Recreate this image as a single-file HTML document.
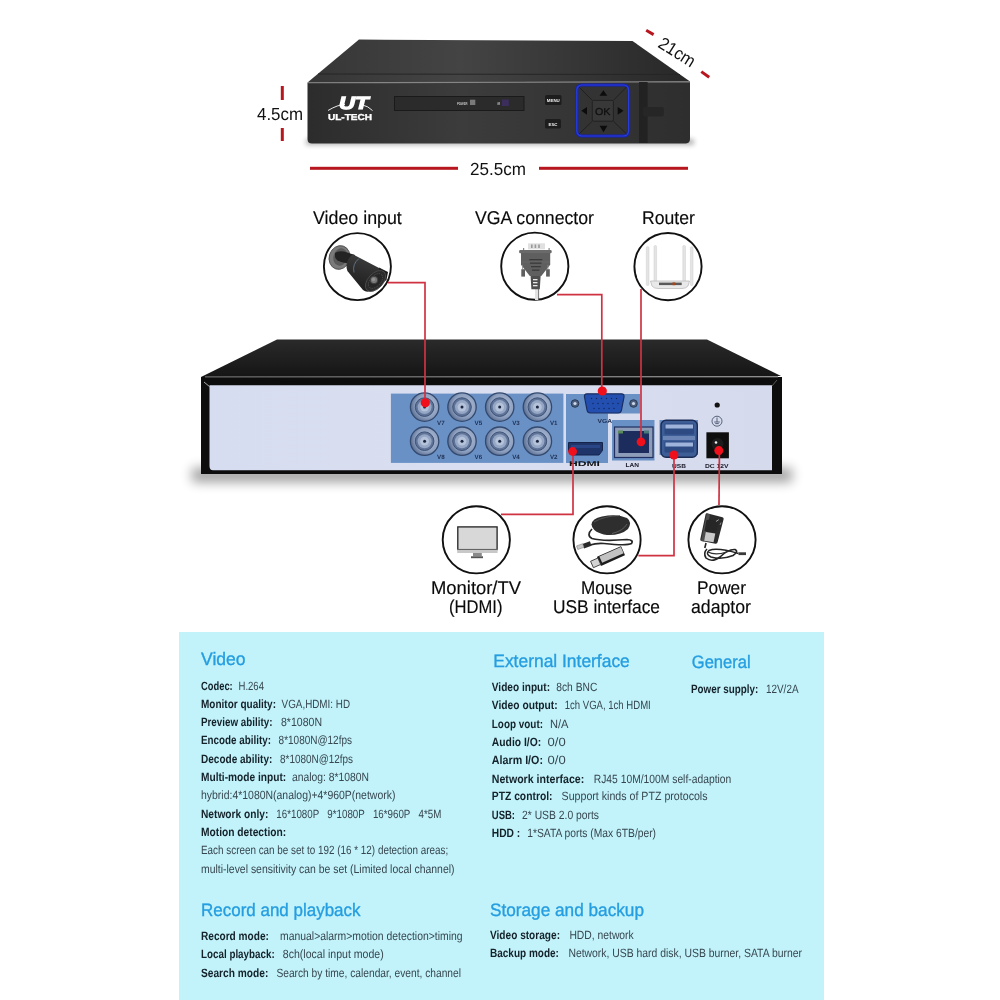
<!DOCTYPE html>
<html><head><meta charset="utf-8">
<style>
html,body{margin:0;padding:0;background:#fff;width:1000px;height:1000px;overflow:hidden}
svg{display:block;font-family:"Liberation Sans",sans-serif;text-rendering:geometricPrecision;will-change:transform}
.lbl{font-size:18.5px;fill:#0a0a0a;stroke:#0a0a0a;stroke-width:0.15px}
.h{font-size:18px;fill:#259ee0;stroke:#259ee0;stroke-width:0.35px}
.k{font-size:12px;font-weight:bold;fill:#14222a}
.v{font-size:12px;fill:#37474f}
.red{stroke:#cf3342;stroke-width:1.7;fill:none}
.dot{fill:#f0101c}
</style></head><body>
<svg width="1000" height="1000" viewBox="0 0 1000 1000">
<defs>
  <linearGradient id="topF" x1="0" y1="0" x2="1" y2="0">
    <stop offset="0" stop-color="#363636"/><stop offset="0.4" stop-color="#444"/><stop offset="1" stop-color="#282828"/>
  </linearGradient>
  <linearGradient id="frontF" x1="0" y1="0" x2="1" y2="0">
    <stop offset="0" stop-color="#2c2c2c"/><stop offset="0.4" stop-color="#3c3c3c"/><stop offset="1" stop-color="#2e2e2e"/>
  </linearGradient>
  <linearGradient id="shadowG" x1="0" y1="0" x2="0" y2="1">
    <stop offset="0" stop-color="#000" stop-opacity="0.45"/><stop offset="1" stop-color="#000" stop-opacity="0"/>
  </linearGradient>
  <radialGradient id="bncG" cx="0.6" cy="0.45" r="0.6">
    <stop offset="0" stop-color="#b5c3da"/><stop offset="0.7" stop-color="#8d9fbf"/><stop offset="1" stop-color="#5a6e92"/>
  </radialGradient>
  
  <linearGradient id="top2" x1="0" y1="0" x2="0" y2="1">
    <stop offset="0" stop-color="#2a2a2a"/><stop offset="1" stop-color="#151515"/>
  </linearGradient>
  <linearGradient id="panel2" x1="0" y1="0" x2="1" y2="0">
    <stop offset="0" stop-color="#d7ddf0"/><stop offset="0.5" stop-color="#d9def0"/><stop offset="1" stop-color="#d5dbec"/>
  </linearGradient>
  <linearGradient id="shadow2" x1="0" y1="0" x2="0" y2="1">
    <stop offset="0" stop-color="#777" stop-opacity="0.7"/><stop offset="0.4" stop-color="#aaa" stop-opacity="0.45"/><stop offset="1" stop-color="#fff" stop-opacity="0"/>
  </linearGradient>
  <linearGradient id="camBody" x1="0.3" y1="0" x2="0" y2="1">
    <stop offset="0" stop-color="#3c3c3c"/><stop offset="0.5" stop-color="#2a2a2a"/><stop offset="1" stop-color="#1a1a1a"/>
  </linearGradient>
  <filter id="blur6" x="-20%" y="-200%" width="140%" height="500%"><feGaussianBlur stdDeviation="6"/></filter>
  <filter id="blur3" x="-20%" y="-200%" width="140%" height="500%"><feGaussianBlur stdDeviation="2.5"/></filter>
</defs>

<!-- ===== TOP DVR (front) ===== -->
<g id="dvr1">
  <rect x="306" y="139" width="388" height="6" fill="#000" opacity="0.3" filter="url(#blur3)"/>
  <polygon points="359,39.5 632.5,41 690,81.5 307.5,82.5" fill="url(#topF)"/>
  <line x1="318" y1="74" x2="680" y2="74.5" stroke="#262626" stroke-width="1"/>
  <path d="M307.5,82.5 L690,81.5 V139 Q690,143 686,143.5 H312 Q307.5,143.5 307.5,139 Z" fill="url(#frontF)"/>
  <line x1="308" y1="82.8" x2="690" y2="81.9" stroke="#858585" stroke-width="1.1"/>
  <!-- logo -->
  <text x="339" y="108.5" font-size="17.5" font-weight="bold" font-style="italic" fill="#fff" stroke="#fff" stroke-width="1.2" textLength="29.5" lengthAdjust="spacingAndGlyphs">UT</text>
  <path d="M328,110.5 Q338,104.5 345,104.5" stroke="#fff" stroke-width="0.9" fill="none"/><path d="M362,104.8 Q368,106 372.5,110.5" stroke="#fff" stroke-width="0.9" fill="none"/>
  <text x="328" y="120.2" font-size="8.6" font-weight="bold" fill="#fff" stroke="#fff" stroke-width="0.35" textLength="44" lengthAdjust="spacingAndGlyphs">UL-TECH</text>
  <!-- slot -->
  <rect x="394.5" y="96.5" width="129.5" height="14" fill="#2b2b2b" stroke="#1a1a1a" stroke-width="1"/>
  <text x="457" y="104.6" font-size="4" font-weight="bold" fill="#ccc" textLength="10.5" lengthAdjust="spacingAndGlyphs">POWER</text>
  <rect x="470" y="99.7" width="5.3" height="5.3" fill="#7a7a7a"/>
  <text x="497.6" y="104.6" font-size="4" font-weight="bold" fill="#ccc" textLength="2.6" lengthAdjust="spacingAndGlyphs">IR</text>
  <rect x="502" y="99.5" width="6.8" height="6.5" fill="#3b2d5c"/>
  <!-- menu/esc -->
  <rect x="545" y="95" width="16.5" height="10" rx="1.5" fill="#1d1d1d"/>
  <text x="546.8" y="101.8" font-size="4.3" font-weight="bold" fill="#eee" textLength="13" lengthAdjust="spacingAndGlyphs">MENU</text>
  <rect x="545" y="119" width="16" height="9.5" rx="1.5" fill="#1d1d1d"/>
  <text x="548.5" y="125.5" font-size="4.3" font-weight="bold" fill="#eee" textLength="9" lengthAdjust="spacingAndGlyphs">ESC</text>
  <!-- nav pad -->
  <rect x="576.8" y="85" width="51.8" height="51" rx="5" fill="#333" stroke="#1623b0" stroke-width="3.2"/><rect x="576.8" y="85" width="51.8" height="51" rx="5" fill="none" stroke="#3048f0" stroke-width="1.2" opacity="0.7"/>
  <g stroke="#1e1e1e" stroke-width="0.9">
    <line x1="579" y1="87" x2="592.3" y2="100.4"/><line x1="626.5" y1="87" x2="613.4" y2="100.4"/>
    <line x1="579" y1="134" x2="592.3" y2="121.2"/><line x1="626.5" y1="134" x2="613.4" y2="121.2"/>
  </g>
  <rect x="592.3" y="100.4" width="21.1" height="20.8" rx="1.2" fill="#383838" stroke="#1f1f1f" stroke-width="0.9"/>
  <text x="595" y="114.8" font-size="10" fill="#101010" stroke="#101010" stroke-width="0.3" textLength="15.5" lengthAdjust="spacingAndGlyphs">OK</text>
  <g fill="#0c0c0c">
    <polygon points="603.4,90.3 607.3,95.8 599.5,95.8"/>
    <polygon points="599.6,125.7 607.4,125.7 603.5,132.2"/>
    <polygon points="581.3,110.8 587,106.9 587,114.7"/>
    <polygon points="623.5,110.8 617.7,106.9 617.7,114.7"/>
  </g>
  <rect x="639.1" y="82" width="8.5" height="61" fill="#222"/>
  <rect x="643" y="107" width="20.8" height="9.6" rx="2" fill="#262626"/>
</g>

<!-- dimensions -->
<g id="dims">
  <text x="257" y="120" font-size="17.5" fill="#111" textLength="46" lengthAdjust="spacingAndGlyphs">4.5cm</text>
  <rect x="280.8" y="86" width="3" height="14" fill="#b8161e"/>
  <rect x="280.8" y="128" width="3" height="13" fill="#b8161e"/>
  <rect x="310" y="166.8" width="148" height="3" fill="#b8161e"/>
  <rect x="539" y="166.8" width="149" height="3" fill="#b8161e"/>
  <text x="470" y="175" font-size="17.5" fill="#111" textLength="56" lengthAdjust="spacingAndGlyphs">25.5cm</text>
  <line x1="646.2" y1="30.3" x2="653.6" y2="34.6" stroke="#b8161e" stroke-width="3"/>
  <line x1="701.3" y1="71.6" x2="709.2" y2="77.3" stroke="#b8161e" stroke-width="3"/>
  <text transform="translate(657,46.5) rotate(32)" x="0" y="0" font-size="17.5" fill="#111" textLength="40" lengthAdjust="spacingAndGlyphs">21cm</text>
</g>

<!-- labels -->
<text class="lbl" x="313" y="224" textLength="88.8" lengthAdjust="spacingAndGlyphs">Video input</text>
<text class="lbl" x="475" y="224" textLength="119" lengthAdjust="spacingAndGlyphs">VGA connector</text>
<text class="lbl" x="642" y="224" textLength="52.8" lengthAdjust="spacingAndGlyphs">Router</text>

<!-- circles -->
<g fill="#fff" stroke="#111" stroke-width="1.9">
  <circle cx="357.4" cy="266.6" r="33.5"/>
  <circle cx="534.8" cy="266.2" r="33.6"/>
  <circle cx="668" cy="266.6" r="33.6"/>
  <circle cx="476.3" cy="539.8" r="33.6"/>
  <circle cx="607" cy="539.8" r="33.6"/>
  <circle cx="722" cy="539.8" r="33.6"/>
</g>
<!-- camera icon -->
<g id="cam">
  <ellipse cx="339.5" cy="257.5" rx="10.3" ry="12" transform="rotate(18 339.5 257.5)" fill="#7a7a7a" stroke="#4a4a4a" stroke-width="0.8"/>
  <ellipse cx="340.5" cy="257" rx="7" ry="8.8" transform="rotate(18 340.5 257)" fill="#5a5a5a"/>
  <path d="M335,253 Q338,250.5 344,251.5 L355,255 L352.5,264 L343,262.5 Q336,261 335,257 Z" fill="#232323"/>
  <path d="M352.7,254.3 L380.5,268.8 Q387,272 385,277 L371,290.5 Q367,293 363,290 L347.4,271 Q344,262 352.7,254.3 Z" fill="url(#camBody)"/>
  <path d="M359,258.5 Q352,264 354,272.5" stroke="#6b7d96" stroke-width="0.8" fill="none"/>
  <path d="M379,267.5 L388,272 L386.5,280 L381,284 Z" fill="#1e1e1e"/>
  <ellipse cx="375.5" cy="281" rx="7.5" ry="12.5" transform="rotate(43 375.5 281)" fill="#2b2b2b" stroke="#4a4a4a" stroke-width="0.9"/>
  <ellipse cx="375.5" cy="281" rx="5.2" ry="8.8" transform="rotate(43 375.5 281)" fill="#262626" stroke="#6a6a6a" stroke-width="0.7" stroke-dasharray="0.8 1"/>
  <circle cx="374" cy="280" r="3.8" fill="#777" stroke="#3a3a3a" stroke-width="0.9"/>
  <circle cx="373.5" cy="279.5" r="1.7" fill="#929292"/>
</g>
<!-- VGA icon -->
<g id="vgaicon">
  <rect x="535" y="289" width="3.3" height="11" fill="#e2e2e2"/>
  <line x1="538.6" y1="289" x2="538.6" y2="300" stroke="#555" stroke-width="0.8"/>
  <rect x="528" y="243.3" width="17" height="6" fill="#e0e0e0"/>
  <rect x="531" y="244.5" width="1.6" height="3.5" fill="#999"/><rect x="534.6" y="244.5" width="1.6" height="3.5" fill="#999"/><rect x="538.2" y="244.5" width="1.6" height="3.5" fill="#999"/>
  <rect x="523" y="248" width="1.2" height="3" fill="#888"/><rect x="548.5" y="248" width="1.2" height="3" fill="#888"/>
  <rect x="519.1" y="250" width="32.6" height="3.2" rx="1.2" fill="#6a6a6a"/>
  <path d="M521,253 H550.2 V264.8 L541.3,276 H529.8 L521,264.8 Z" fill="#5f5f5f"/>
  <line x1="521.5" y1="262" x2="550" y2="262" stroke="#707070" stroke-width="0.6"/>
  <g fill="#3a3a3a">
    <rect x="529.3" y="259" width="13" height="1.3"/><rect x="530" y="262.5" width="11.5" height="1.3"/>
    <rect x="531" y="266" width="9.8" height="1.3"/><rect x="532" y="269.5" width="7.5" height="1.3"/>
  </g>
  <rect x="522.2" y="264.8" width="0.8" height="4.5" fill="#888"/><rect x="547.5" y="264.8" width="0.8" height="4.5" fill="#888"/>
  <rect x="521.3" y="269.2" width="3.7" height="7.4" fill="#5f5f5f"/>
  <rect x="546.1" y="269.2" width="3.7" height="7.4" fill="#5f5f5f"/>
  <path d="M530.6,276 H540.6 L539.8,289.2 H531.4 Z" fill="#4e4e4e"/>
  <g fill="#e8e8e8"><rect x="533" y="279" width="4.5" height="1.3"/><rect x="533" y="282" width="4.5" height="1.3"/><rect x="533" y="285" width="4.5" height="1.3"/></g>
</g>
<!-- router icon -->
<g id="router">
  <g fill="#e4e4e4" stroke="#cfcfcf" stroke-width="0.5">
    <rect x="646.3" y="246.7" width="2.7" height="38.8" rx="1"/>
    <rect x="654" y="245.6" width="2.6" height="39" rx="1"/>
    <rect x="682.8" y="245.6" width="2.7" height="39" rx="1"/>
    <rect x="690.4" y="246.7" width="2.6" height="38.8" rx="1"/>
  </g>
  <path d="M650.5,281 H689.5 L688,286 Q686,288.5 682,288.5 H658 Q654,288.5 652,286 Z" fill="#e9e9e9" stroke="#b5b5b5" stroke-width="0.7"/>
  <rect x="659" y="282.6" width="22.7" height="2.5" fill="#5a5a5a"/>
  <rect x="672.5" y="282.4" width="2.8" height="2.8" fill="#a8451a"/>
</g>
<!-- monitor icon -->
<g id="monitor">
  <rect x="457.8" y="526.9" width="39.3" height="22.7" fill="#d8d8d8" stroke="#222" stroke-width="1.3"/>
  <rect x="457.2" y="549.6" width="40.4" height="3.4" fill="#c8c8c8"/>
  <rect x="473" y="553" width="8.8" height="3.3" fill="#8a8a8a"/>
  <rect x="471" y="556.3" width="12" height="1.9" fill="#555"/>
</g>
<!-- mouse + usb icon -->
<g id="mouse">
  <path d="M592,529 Q586,535 592,538.5 Q602,541.5 627,539.5 Q634,540 631.5,543.5 Q627,546 604,543.5 Q596,543 590,545" fill="none" stroke="#262626" stroke-width="1.7"/>
  <path d="M591.5,524.5 Q592,518.5 602,516.5 Q617,513.5 627,518 Q632.5,522 628,529 Q621,535.5 607,535 Q593,533 591.5,524.5 Z" fill="#2e2e2e"/>
  <path d="M594,522 Q604,516 620,515.5" stroke="#5a5a5a" stroke-width="0.8" fill="none"/>
  <path d="M612,533.5 Q623,531 627,524" stroke="#6a6a6a" stroke-width="0.8" fill="none"/>
  <rect x="583" y="542.5" width="8" height="4.8" transform="rotate(-20 587 545)" fill="#2a2a2a"/>
  <rect x="577" y="544.8" width="6.5" height="3.8" transform="rotate(-20 580 546.7)" fill="#c8c8c8" stroke="#777" stroke-width="0.5"/>
  <g transform="rotate(-24 610 557)">
    <rect x="598" y="551.5" width="26.5" height="10" rx="0.8" fill="#1c1c1c"/>
    <rect x="600.5" y="552.2" width="23.5" height="6.8" fill="#c2c2c2"/>
    <rect x="590.5" y="553" width="8" height="7" fill="#d4d4d4" stroke="#333" stroke-width="0.8"/>
  </g>
</g>
<!-- power adaptor icon -->
<g id="power">
  <path d="M707,513.2 L722.5,517.3 Q724,517.8 723.6,519.3 L717.5,542.6 Q717,544 715.5,543.7 L701.5,541.1 Q700,540.8 700.3,539.3 L705.6,514.3 Q706,513 707,513.2 Z" fill="#2a2a2a"/>
  <path d="M706.8,513.6 L710,514.4 L704.3,541.5 L701,540.9 Z" fill="#4d4d4d"/>
  <path d="M706.5,520 Q713,519 718,523 L716,533 Q710,533 704.5,531 Z" fill="#262626"/>
  <path d="M705.8,532 L715.3,533.6 L713.5,542.2 L704.2,540.8 Z" fill="#c9c9c9"/>
  <line x1="716" y1="521.5" x2="718.8" y2="519.6" stroke="#aaa" stroke-width="0.9"/>
  <line x1="720" y1="525" x2="721" y2="522.5" stroke="#999" stroke-width="0.8"/>
  <path d="M706,543 L704.8,548" stroke="#222" stroke-width="1.6"/>
  <path d="M707,549 Q703,553 706,558 Q712,563 720,557 Q728,549 735,549.5 Q739,551.5 733,555.5 Q722,560 711,557 Q705,554 709,550.5 Q717,547 738.5,553.5" fill="none" stroke="#242424" stroke-width="1.6"/>
  <path d="M708,552 Q716,556 730,551" fill="none" stroke="#303030" stroke-width="1.2"/>
  <rect x="738.5" y="552.3" width="7.5" height="2.8" fill="#3a3a3a"/>
</g>

<!-- ===== BACK DVR ===== -->
<g id="dvr2">
  <rect x="192" y="468" width="600" height="14" fill="#000" opacity="0.38" filter="url(#blur6)"/>
  <polygon points="277,339.5 707,339.5 781,376 201,377" fill="url(#top2)"/>
  <rect x="201" y="377" width="581" height="97" fill="#0d0d0d"/>
  <line x1="205" y1="376.8" x2="778" y2="376.8" stroke="#6a6a6a" stroke-width="1.2"/>
  <path d="M209.5,385.3 H772 V470.2 H213 Q209.5,470.2 209.5,466 Z" fill="url(#panel2)"/>
  <line x1="204" y1="382" x2="210" y2="387" stroke="#aaa" stroke-width="1"/>
  <line x1="777" y1="380" x2="772" y2="386" stroke="#555" stroke-width="1"/>
  <rect x="390.9" y="393.6" width="172.5" height="69.3" fill="#6a91c6"/>
  <path d="M566,394 H640 V413.5 H608 V463 H566 Z" fill="#6a91c6"/>
  <rect x="612" y="420" width="42.5" height="40.5" fill="#6a91c6"/>
  <rect x="659.5" y="420" width="38.5" height="35" fill="#6a91c6"/>
  <g transform="translate(424.6 407.1)"><circle r="14.2" fill="url(#bncG)" stroke="#33496e" stroke-width="1.3"/>
    <circle r="9.3" fill="#60749a" stroke="#3e5275" stroke-width="1"/>
    <circle r="7" fill="#95a7c5"/>
    <circle r="4.4" fill="#b4c2da"/>
    <circle r="1.5" fill="#1b2540"/></g>
  <g transform="translate(462 407.1)"><circle r="14.2" fill="url(#bncG)" stroke="#33496e" stroke-width="1.3"/>
    <circle r="9.3" fill="#60749a" stroke="#3e5275" stroke-width="1"/>
    <circle r="7" fill="#95a7c5"/>
    <circle r="4.4" fill="#b4c2da"/>
    <circle r="1.5" fill="#1b2540"/></g>
  <g transform="translate(499.7 407.1)"><circle r="14.2" fill="url(#bncG)" stroke="#33496e" stroke-width="1.3"/>
    <circle r="9.3" fill="#60749a" stroke="#3e5275" stroke-width="1"/>
    <circle r="7" fill="#95a7c5"/>
    <circle r="4.4" fill="#b4c2da"/>
    <circle r="1.5" fill="#1b2540"/></g>
  <g transform="translate(537.4 407.1)"><circle r="14.2" fill="url(#bncG)" stroke="#33496e" stroke-width="1.3"/>
    <circle r="9.3" fill="#60749a" stroke="#3e5275" stroke-width="1"/>
    <circle r="7" fill="#95a7c5"/>
    <circle r="4.4" fill="#b4c2da"/>
    <circle r="1.5" fill="#1b2540"/></g>
  <g transform="translate(424.6 441.2)"><circle r="14.2" fill="url(#bncG)" stroke="#33496e" stroke-width="1.3"/>
    <circle r="9.3" fill="#60749a" stroke="#3e5275" stroke-width="1"/>
    <circle r="7" fill="#95a7c5"/>
    <circle r="4.4" fill="#b4c2da"/>
    <circle r="1.5" fill="#1b2540"/></g>
  <g transform="translate(462 441.2)"><circle r="14.2" fill="url(#bncG)" stroke="#33496e" stroke-width="1.3"/>
    <circle r="9.3" fill="#60749a" stroke="#3e5275" stroke-width="1"/>
    <circle r="7" fill="#95a7c5"/>
    <circle r="4.4" fill="#b4c2da"/>
    <circle r="1.5" fill="#1b2540"/></g>
  <g transform="translate(499.7 441.2)"><circle r="14.2" fill="url(#bncG)" stroke="#33496e" stroke-width="1.3"/>
    <circle r="9.3" fill="#60749a" stroke="#3e5275" stroke-width="1"/>
    <circle r="7" fill="#95a7c5"/>
    <circle r="4.4" fill="#b4c2da"/>
    <circle r="1.5" fill="#1b2540"/></g>
  <g transform="translate(537.4 441.2)"><circle r="14.2" fill="url(#bncG)" stroke="#33496e" stroke-width="1.3"/>
    <circle r="9.3" fill="#60749a" stroke="#3e5275" stroke-width="1"/>
    <circle r="7" fill="#95a7c5"/>
    <circle r="4.4" fill="#b4c2da"/>
    <circle r="1.5" fill="#1b2540"/></g>
  <g font-size="6.2" font-weight="bold" fill="#1e2f52">
  <text x="437.1" y="424.8" text-anchor="start">V7</text>
  <text x="437.1" y="459" text-anchor="start">V8</text>
  <text x="474.5" y="424.8" text-anchor="start">V5</text>
  <text x="474.5" y="459" text-anchor="start">V6</text>
  <text x="512.2" y="424.8" text-anchor="start">V3</text>
  <text x="512.2" y="459" text-anchor="start">V4</text>
  <text x="549.9" y="424.8" text-anchor="start">V1</text>
  <text x="549.9" y="459" text-anchor="start">V2</text>
  </g>
  <!-- VGA -->
  <circle cx="575" cy="403.5" r="3.8" fill="#4b5f80" stroke="#2a3a55" stroke-width="1"/><circle cx="575" cy="403.5" r="1.6" fill="#cfd8e8"/>
  <circle cx="633.5" cy="403.5" r="3.8" fill="#4b5f80" stroke="#2a3a55" stroke-width="1"/><circle cx="633.5" cy="403.5" r="1.6" fill="#cfd8e8"/>
  <path d="M587,393.8 H621.5 Q624.5,393.8 624,397 L621.5,410 Q621,413 618,413 H590.5 Q587.5,413 587,410 L584.5,397 Q584,393.8 587,393.8 Z" fill="#2350b0" stroke="#1b2d5e" stroke-width="1.2"/>
  <g fill="#14245a">
    <circle cx="591.5" cy="398.5" r="0.7"/><circle cx="596.5" cy="398.5" r="0.7"/><circle cx="601.5" cy="398.5" r="0.7"/><circle cx="606.5" cy="398.5" r="0.7"/><circle cx="611.5" cy="398.5" r="0.7"/><circle cx="616.5" cy="398.5" r="0.7"/>
    <circle cx="593" cy="403.5" r="0.7"/><circle cx="598" cy="403.5" r="0.7"/><circle cx="603" cy="403.5" r="0.7"/><circle cx="608" cy="403.5" r="0.7"/><circle cx="613" cy="403.5" r="0.7"/><circle cx="618" cy="403.5" r="0.7"/>
    <circle cx="594" cy="408.5" r="0.7"/><circle cx="599" cy="408.5" r="0.7"/><circle cx="604" cy="408.5" r="0.7"/><circle cx="609" cy="408.5" r="0.7"/><circle cx="614" cy="408.5" r="0.7"/>
  </g>
  <text x="597.5" y="422.6" font-size="5.8" font-weight="bold" fill="#1e2f52" textLength="14.5" lengthAdjust="spacingAndGlyphs">VGA</text>
  <!-- HDMI -->
  <path d="M568.5,442.5 H602.5 V450.5 L599,455 H572 L568.5,451 Z" fill="#1f3468" stroke="#15234a" stroke-width="1"/>
  <rect x="571" y="445" width="29" height="3" fill="#2a4585"/>
  <text x="569" y="465.6" font-size="7" font-weight="bold" fill="#111" textLength="31" lengthAdjust="spacingAndGlyphs">HDMI</text>
  <!-- LAN -->
  <rect x="614.5" y="427" width="38.5" height="30.5" fill="#8d9cb8" stroke="#213060" stroke-width="1.2"/>
  <rect x="618.5" y="431" width="30.5" height="22" fill="#1c2c5c"/>
  <rect x="618" y="430.5" width="5" height="3" fill="#5a8a5a"/><rect x="644" y="430.5" width="5" height="3" fill="#4a7a7a"/>
  <text x="625.5" y="466.8" font-size="5.8" font-weight="bold" fill="#1a1a2a" textLength="13.5" lengthAdjust="spacingAndGlyphs">LAN</text>
  <!-- USB -->
  <rect x="661" y="420.3" width="36.3" height="37" rx="5" fill="#3d5d96" stroke="#1a2b55" stroke-width="1.4"/>
  <rect x="664.5" y="423.5" width="29.5" height="11" rx="1" fill="#2d4a82"/>
  <rect x="665.5" y="424.5" width="27.5" height="4" fill="#9fb4da"/>
  <rect x="664.5" y="441.5" width="29.5" height="11" rx="1" fill="#2d4a82"/>
  <rect x="665.5" y="442.5" width="27.5" height="4" fill="#9fb4da"/>
  <rect x="663" y="436" width="32" height="4" fill="#6a84b5"/>
  <text x="672" y="467.6" font-size="5.8" font-weight="bold" fill="#1a1a2a" textLength="14" lengthAdjust="spacingAndGlyphs">USB</text>
  <!-- DC -->
  <circle cx="717.2" cy="405" r="2.6" fill="#111"/>
  <circle cx="717" cy="421.2" r="5" fill="none" stroke="#4a5570" stroke-width="0.9"/>
  <path d="M717,417.5 V422 M714.2,422 H719.8 M715.2,423.6 H718.8" stroke="#4a5570" stroke-width="0.9"/>
  <rect x="706.4" y="432.3" width="22.5" height="26" fill="#0e0e0e"/>
  <circle cx="717.5" cy="444" r="6" fill="#1c1c1c"/>
  <circle cx="716" cy="442.5" r="1.3" fill="#eee"/>
  <text x="705" y="467.6" font-size="5.8" font-weight="bold" fill="#1a1a2a" textLength="23.5" lengthAdjust="spacingAndGlyphs">DC 12V</text>
</g>

<!-- red connectors -->
<g class="red">
  <polyline points="388,282.6 425,282.6 425,403"/>
  <polyline points="557,294.6 601.8,294.6 601.8,391"/>
  <polyline points="641,289 641,441.6"/>
  <polyline points="573,451.5 573,514.4 501,514.4"/>
  <polyline points="674,455 674,555.6 638.4,555.6"/>
  <polyline points="719.4,451 719,505"/>
</g>
<g class="dot">
  <circle cx="425.3" cy="402.8" r="4.6"/>
  <circle cx="602.3" cy="391" r="4.6"/>
  <circle cx="641" cy="441.8" r="4.4"/>
  <circle cx="572.6" cy="451.5" r="4.4"/>
  <circle cx="673.9" cy="455" r="4.5"/>
  <circle cx="718.8" cy="450.6" r="4.5"/>
</g>

<!-- bottom labels -->
<text class="lbl" x="431" y="594" textLength="90" lengthAdjust="spacingAndGlyphs">Monitor/TV</text>
<text class="lbl" x="449" y="613" textLength="53.4" lengthAdjust="spacingAndGlyphs">(HDMI)</text>
<text class="lbl" x="581" y="594" textLength="51.4" lengthAdjust="spacingAndGlyphs">Mouse</text>
<text class="lbl" x="553" y="613" textLength="107" lengthAdjust="spacingAndGlyphs">USB interface</text>
<text class="lbl" x="697" y="594" textLength="49" lengthAdjust="spacingAndGlyphs">Power</text>
<text class="lbl" x="691" y="613" textLength="60" lengthAdjust="spacingAndGlyphs">adaptor</text>

<!-- ===== SPEC PANEL ===== -->
<rect x="179" y="632" width="645" height="368" fill="#c2f2fa"/>
<g id="specs">
<text class="k" x="201" y="689.5" textLength="31.7" lengthAdjust="spacingAndGlyphs">Codec:</text>
<text class="v" x="238.5" y="689.5" textLength="25.5" lengthAdjust="spacingAndGlyphs">H.264</text>
<text class="k" x="201" y="707.8" textLength="75.0" lengthAdjust="spacingAndGlyphs">Monitor quality:</text>
<text class="v" x="281.6" y="707.8" textLength="68.4" lengthAdjust="spacingAndGlyphs">VGA,HDMI: HD</text>
<text class="k" x="201" y="726.1" textLength="71.4" lengthAdjust="spacingAndGlyphs">Preview ability:</text>
<text class="v" x="281" y="726.1" textLength="41.0" lengthAdjust="spacingAndGlyphs">8*1080N</text>
<text class="k" x="201" y="744.4" textLength="70.0" lengthAdjust="spacingAndGlyphs">Encode ability:</text>
<text class="v" x="278.6" y="744.4" textLength="73.4" lengthAdjust="spacingAndGlyphs">8*1080N@12fps</text>
<text class="k" x="201" y="762.7" textLength="71.3" lengthAdjust="spacingAndGlyphs">Decode ability:</text>
<text class="v" x="280" y="762.7" textLength="73.0" lengthAdjust="spacingAndGlyphs">8*1080N@12fps</text>
<text class="k" x="201" y="781" textLength="85.2" lengthAdjust="spacingAndGlyphs">Multi-mode input:</text>
<text class="v" x="292" y="781" textLength="77.0" lengthAdjust="spacingAndGlyphs">analog: 8*1080N</text>
<text class="v" x="201" y="799.3" textLength="194.4" lengthAdjust="spacingAndGlyphs">hybrid:4*1080N(analog)+4*960P(network)</text>
<text class="k" x="201" y="817.6" textLength="67.3" lengthAdjust="spacingAndGlyphs">Network only:</text>
<text class="v" x="276.3" y="817.6" textLength="165.0" lengthAdjust="spacingAndGlyphs">16*1080P   9*1080P   16*960P   4*5M</text>
<text class="k" x="201" y="835.9" textLength="85.2" lengthAdjust="spacingAndGlyphs">Motion detection:</text>
<text class="v" x="201" y="854.2" textLength="247.2" lengthAdjust="spacingAndGlyphs">Each screen can be set to 192 (16 * 12) detection areas;</text>
<text class="v" x="201" y="872.5" textLength="253.5" lengthAdjust="spacingAndGlyphs">multi-level sensitivity can be set (Limited local channel)</text>
<text class="k" x="491.8" y="690.75" textLength="58.2" lengthAdjust="spacingAndGlyphs">Video input:</text>
<text class="v" x="556.3" y="690.75" textLength="41.0" lengthAdjust="spacingAndGlyphs">8ch BNC</text>
<text class="k" x="491.8" y="709" textLength="65.9" lengthAdjust="spacingAndGlyphs">Video output:</text>
<text class="v" x="564.7" y="709" textLength="86.1" lengthAdjust="spacingAndGlyphs">1ch VGA, 1ch HDMI</text>
<text class="k" x="491.8" y="727.5" textLength="51.2" lengthAdjust="spacingAndGlyphs">Loop vout:</text>
<text class="v" x="550" y="727.5" textLength="18.5" lengthAdjust="spacingAndGlyphs">N/A</text>
<text class="k" x="491.8" y="745.7" textLength="49.4" lengthAdjust="spacingAndGlyphs">Audio I/O:</text>
<text class="v" x="547.6" y="745.7" textLength="18.1" lengthAdjust="spacingAndGlyphs">0/0</text>
<text class="k" x="491.8" y="764.3" textLength="51.2" lengthAdjust="spacingAndGlyphs">Alarm I/O:</text>
<text class="v" x="547.6" y="764.3" textLength="18.1" lengthAdjust="spacingAndGlyphs">0/0</text>
<text class="k" x="491.8" y="782.5" textLength="92.5" lengthAdjust="spacingAndGlyphs">Network interface:</text>
<text class="v" x="593.75" y="782.5" textLength="137.5" lengthAdjust="spacingAndGlyphs">RJ45 10M/100M self-adaption</text>
<text class="k" x="491.8" y="800.3" textLength="60.7" lengthAdjust="spacingAndGlyphs">PTZ control:</text>
<text class="v" x="561.55" y="800.3" textLength="146.0" lengthAdjust="spacingAndGlyphs">Support kinds of PTZ protocols</text>
<text class="k" x="491.8" y="819.2" textLength="23.2" lengthAdjust="spacingAndGlyphs">USB:</text>
<text class="v" x="522" y="819.2" textLength="77.0" lengthAdjust="spacingAndGlyphs">2* USB 2.0 ports</text>
<text class="k" x="491.8" y="837" textLength="28.4" lengthAdjust="spacingAndGlyphs">HDD :</text>
<text class="v" x="527.25" y="837" textLength="128.8" lengthAdjust="spacingAndGlyphs">1*SATA ports (Max 6TB/per)</text>
<text class="k" x="691" y="692.5" textLength="67.3" lengthAdjust="spacingAndGlyphs">Power supply:</text>
<text class="v" x="766" y="692.5" textLength="32.5" lengthAdjust="spacingAndGlyphs">12V/2A</text>
<text class="h" x="201" y="665" textLength="44.6" lengthAdjust="spacingAndGlyphs">Video</text>
<text class="h" x="493.3" y="667.3" textLength="136.5" lengthAdjust="spacingAndGlyphs">External Interface</text>
<text class="h" x="691.8" y="668" textLength="58.8" lengthAdjust="spacingAndGlyphs">General</text>
<text class="h" x="201" y="915.5" textLength="159.5" lengthAdjust="spacingAndGlyphs">Record and playback</text>
<text class="h" x="490" y="915.5" textLength="154.0" lengthAdjust="spacingAndGlyphs">Storage and backup</text>
<text class="k" x="201" y="940" textLength="67.9" lengthAdjust="spacingAndGlyphs">Record mode:</text>
<text class="v" x="280" y="940" textLength="182.6" lengthAdjust="spacingAndGlyphs">manual&gt;alarm&gt;motion detection&gt;timing</text>
<text class="k" x="201" y="958" textLength="73.7" lengthAdjust="spacingAndGlyphs">Local playback:</text>
<text class="v" x="282.8" y="958" textLength="100.9" lengthAdjust="spacingAndGlyphs">8ch(local input mode)</text>
<text class="k" x="201" y="977" textLength="67.3" lengthAdjust="spacingAndGlyphs">Search mode:</text>
<text class="v" x="276.4" y="977" textLength="184.6" lengthAdjust="spacingAndGlyphs">Search by time, calendar, event, channel</text>
<text class="k" x="490" y="939.3" textLength="70.0" lengthAdjust="spacingAndGlyphs">Video storage:</text>
<text class="v" x="569.4" y="939.3" textLength="64.3" lengthAdjust="spacingAndGlyphs">HDD, network</text>
<text class="k" x="490" y="957.3" textLength="68.9" lengthAdjust="spacingAndGlyphs">Backup mode:</text>
<text class="v" x="568.4" y="957.3" textLength="233.6" lengthAdjust="spacingAndGlyphs">Network, USB hard disk, USB burner, SATA burner</text>
</g>
</svg>
</body></html>
